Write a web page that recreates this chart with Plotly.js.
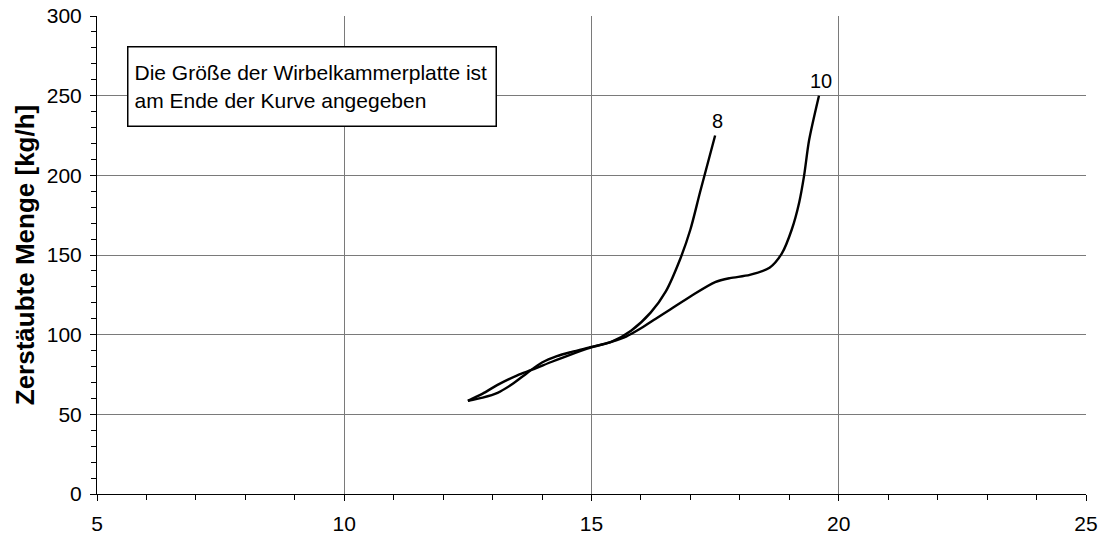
<!DOCTYPE html>
<html>
<head>
<meta charset="utf-8">
<script src="https://cdn.plot.ly/plotly-3.0.1.min.js"></script>
<style>html,body{margin:0;padding:0;background:#fff;}#chart{width:1103px;height:537px;}</style>
</head>
<body>
<div id="chart"></div>
<script>
// Plate size 8
const x8 = [12.5, 12.8, 13.1, 13.4, 13.7, 14.0, 14.3, 14.6, 15.0, 15.4, 15.8, 16.2, 16.5, 16.8, 17.0, 17.2, 17.5];
const y8 = [58.5, 60.5, 63.5, 69, 76, 82.5, 86.5, 89.2, 92.3, 95.5, 102.5, 114, 127, 148, 166, 190, 225];
// Plate size 10
const x10 = [12.5, 12.8, 13.1, 13.5, 13.8, 14.2, 14.5, 15.0, 15.4, 15.7, 16.0, 16.3, 16.6, 17.0, 17.5, 17.8, 18.2, 18.6, 18.85, 19.05, 19.2, 19.3, 19.4, 19.6];
const y10 = [58.5, 63, 68.5, 74.5, 78, 83, 86.6, 92, 95.5, 98.8, 104, 110, 116, 124, 133, 135.5, 137.5, 142, 151, 166, 183, 200, 222, 250];
const curveLabels = ['8', '10'];
const noteText = 'Die Größe der Wirbelkammerplatte ist<br>am Ende der Kurve angegeben';
const yTitle = 'Zerstäubte Menge [kg/h]';
const xTickVals = [5, 10, 15, 20, 25];
const yTickVals = [0, 50, 100, 150, 200, 250, 300];

const FONT = 'Liberation Sans, Arial, sans-serif';
const series = [[x8, y8], [x10, y10]];

const traces = series.map(([xs, ys]) => ({
  x: xs, y: ys, type: 'scatter', mode: 'lines',
  line: {color: '#000', width: 2.4, shape: 'spline', smoothing: 0.8},
  hoverinfo: 'skip', showlegend: false
}));

const annotations = series.map(([xs, ys], i) => ({
  x: xs[xs.length - 1], y: ys[ys.length - 1], xref: 'x', yref: 'y',
  text: curveLabels[i], showarrow: false, xanchor: 'center', yanchor: 'bottom',
  xshift: 2, yshift: 2, font: {family: FONT, size: 20, color: '#000'}
}));

annotations.push({
  xref: 'paper', yref: 'paper', x: 0.0303, y: 0.937, xanchor: 'left', yanchor: 'top',
  text: noteText, showarrow: false, align: 'left', valign: 'middle',
  width: 355, height: 66, borderpad: 6,
  bordercolor: '#000', borderwidth: 1.5, bgcolor: '#fff',
  font: {family: FONT, size: 21, color: '#000'}
});

const layout = {
  width: 1103, height: 537,
  margin: {l: 97, r: 17, t: 16, b: 43},
  paper_bgcolor: '#fff', plot_bgcolor: '#fff',
  showlegend: false,
  font: {family: FONT, color: '#000'},
  xaxis: {
    range: [5, 25], tickvals: xTickVals, ticktext: xTickVals.map(String),
    showgrid: true, gridcolor: '#7a7a7a', gridwidth: 1,
    showline: true, linecolor: '#000', linewidth: 1,
    ticks: 'outside', ticklen: 6, tickcolor: '#000', tickwidth: 1,
    ticklabelstandoff: 5,
    minor: {dtick: 1, ticks: 'outside', ticklen: 5, tickcolor: '#000', showgrid: false},
    tickfont: {family: FONT, size: 21, color: '#000'},
    zeroline: false, fixedrange: true
  },
  yaxis: {
    range: [0, 300], tickvals: yTickVals, ticktext: yTickVals.map(String),
    showgrid: true, gridcolor: '#7a7a7a', gridwidth: 1,
    showline: true, linecolor: '#000', linewidth: 1,
    ticks: 'outside', ticklen: 6, tickcolor: '#000', tickwidth: 1,
    ticklabelstandoff: 4,
    minor: {dtick: 10, ticks: 'outside', ticklen: 5, tickcolor: '#000', showgrid: false},
    tickfont: {family: FONT, size: 21, color: '#000'},
    title: {text: yTitle, font: {family: FONT, size: 26, color: '#000', weight: 'bold'}, standoff: 4},
    zeroline: false, fixedrange: true
  },
  annotations: annotations
};

Plotly.newPlot('chart', traces, layout, {displayModeBar: false, staticPlot: true});
</script>
</body>
</html>
